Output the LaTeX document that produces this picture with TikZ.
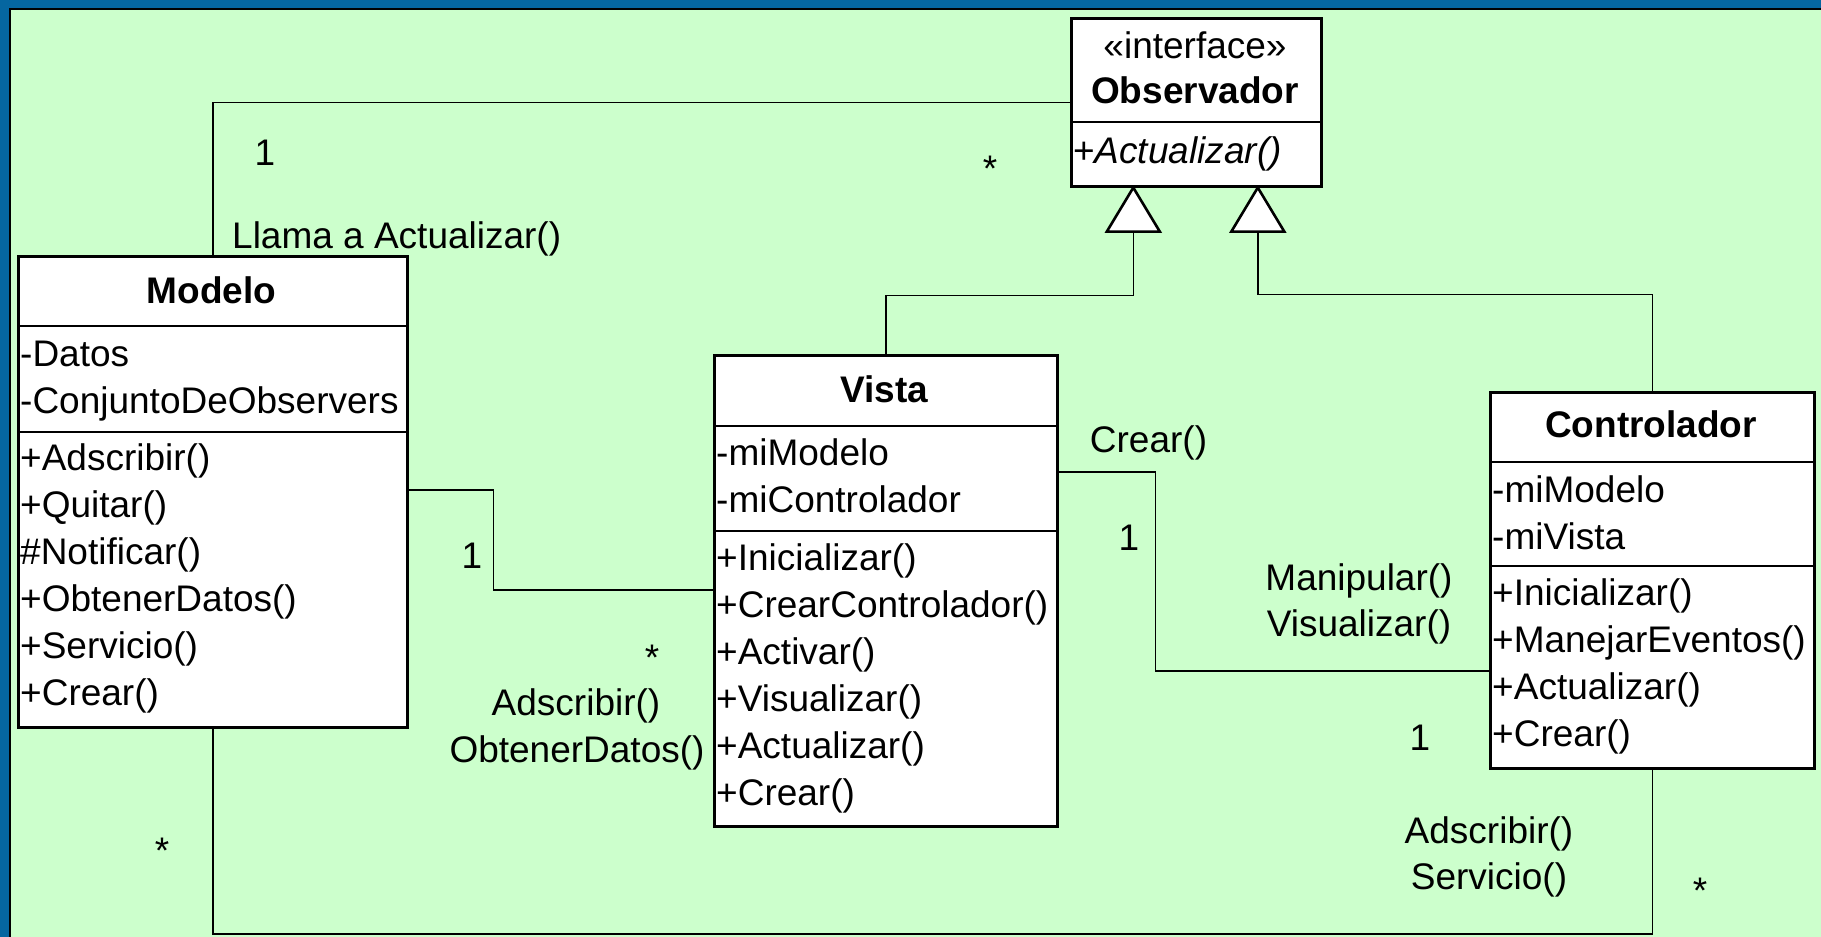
\documentclass[tikz,border=0pt]{standalone}
\usepackage{fontspec}
\setmainfont{Liberation Sans}
\definecolor{bg}{RGB}{204,255,204}
\definecolor{frameblue}{RGB}{5,102,160}
\begin{document}
\begin{tikzpicture}[x=1pt,y=-1pt,
  font=\fontsize{37}{47}\selectfont,
  box/.style={draw=black, fill=white, line width=2.6pt, inner sep=0pt, anchor=north west},
  divider/.style={draw=black, line width=2.6pt},
  conn/.style={draw=black, line width=1.6pt},
  tri/.style={draw=black, fill=white, line width=2.6pt, line join=miter},
  lt/.style={anchor=base west, inner sep=0pt},
  ct/.style={anchor=base, inner sep=0pt},
  ttl/.style={anchor=base, inner sep=0pt, font=\fontsize{37}{47}\selectfont\bfseries}]
\useasboundingbox (0,0) rectangle (1821,937);
% background and frame
\fill[bg] (0,0) rectangle (1821,937);
\fill[frameblue] (0,0) rectangle (1821,8);
\fill[frameblue] (0,0) rectangle (9,937);
\fill[black] (9,8) rectangle (1821,10);
\fill[black] (9,8) rectangle (11,937);

% class boxes
\node[box, minimum width=389pt, minimum height=471pt] (modelo) at (17,255) {};
\node[box, minimum width=343pt, minimum height=471pt] (vista) at (713,354) {};
\node[box, minimum width=324pt, minimum height=376pt] (ctrl) at (1489,391) {};
\node[box, minimum width=250pt, minimum height=168pt] (obs) at (1070,17) {};

% dividers
\draw[divider] ([yshift=-71pt]modelo.north west) -- ([yshift=-71pt]modelo.north east);
\draw[divider] ([yshift=-177pt]modelo.north west) -- ([yshift=-177pt]modelo.north east);
\draw[divider] ([yshift=-72pt]vista.north west) -- ([yshift=-72pt]vista.north east);
\draw[divider] ([yshift=-177pt]vista.north west) -- ([yshift=-177pt]vista.north east);
\draw[divider] ([yshift=-71pt]ctrl.north west) -- ([yshift=-71pt]ctrl.north east);
\draw[divider] ([yshift=-175pt]ctrl.north west) -- ([yshift=-175pt]ctrl.north east);
\draw[divider] ([yshift=-105pt]obs.north west) -- ([yshift=-105pt]obs.north east);

% Observador
\node[ct] (obsStereo) at (1195,58) {«interface»};
\node[ttl] (obsTitle) at (1195,103) {Observador};
\node[lt] (obsM1) at (1073,163) {+\textit{Actualizar()}};

% Modelo
\node[ttl] (modeloTitle) at (211.5,303) {Modelo};
\foreach \t [count=\i] in {-Datos,-ConjuntoDeObservers}
  \node[lt] (modeloA\i) at (20,{366+47*(\i-1)}) {\t};
\foreach \t [count=\i] in {+Adscribir(),+Quitar(),\#Notificar(),+ObtenerDatos(),+Servicio(),+Crear()}
  \node[lt] (modeloM\i) at (20,{470+47*(\i-1)}) {\t};

% Vista
\node[ttl] (vistaTitle) at (884.5,402) {Vista};
\foreach \t [count=\i] in {-miModelo,-miControlador}
  \node[lt] (vistaA\i) at (716,{465+47*(\i-1)}) {\t};
\foreach \t [count=\i] in {+Inicializar(),+CrearControlador(),+Activar(),+Visualizar(),+Actualizar(),+Crear()}
  \node[lt] (vistaM\i) at (716,{570+47*(\i-1)}) {\t};

% Controlador
\node[ttl] (ctrlTitle) at (1651,437) {Controlador};
\foreach \t [count=\i] in {-miModelo,-miVista}
  \node[lt] (ctrlA\i) at (1492,{502+47*(\i-1)}) {\t};
\foreach \t [count=\i] in {+Inicializar(),+ManejarEventos(),+Actualizar(),+Crear()}
  \node[lt] (ctrlM\i) at (1492,{605+47*(\i-1)}) {\t};

% generalization triangles
\coordinate (tipA) at ([xshift=-63pt]obs.south);
\coordinate (tipB) at ([xshift=61.5pt]obs.south);
\draw[conn] (vista.north) |- ([yshift=-108pt]tipA) -- ([yshift=-44pt]tipA);
\draw[conn] (ctrl.north) |- ([yshift=-107pt]tipB) -- ([yshift=-44pt]tipB);
\draw[tri] (tipA) -- ++(-26.5,44) -- ++(53,0) -- cycle;
\draw[tri] (tipB) -- ++(-26.5,44) -- ++(53,0) -- cycle;

% associations
\coordinate (bottomY) at (0,934);
\draw[conn] (modelo.north) |- (obs.west);
\draw[conn] ([yshift=-235pt]modelo.north east) -- ++(85,0) |- ([yshift=-236pt]vista.north west);
\draw[conn] ([yshift=-118pt]vista.north east) -- ++(97,0) |- ([yshift=-280pt]ctrl.north west);
\draw[conn] (ctrl.south) |- (modelo.south |- bottomY) -- (modelo.south);

% labels
\node[ct] (l1) at (265,165) {1};
\node[lt] (l2) at (232,248) {Llama a Actualizar()};
\node[ct] (l3) at (990,181) {*};
\node[ct] (l4) at (472,568) {1};
\node[ct] (l5) at (652,670) {*};
\node[ct] (l6) at (576,715) {Adscribir()};
\node[ct] (l7) at (577,762) {ObtenerDatos()};
\node[ct] (l8) at (1148.5,452) {Crear()};
\node[ct] (l9) at (1129,550) {1};
\node[ct] (l10) at (1359,590) {Manipular()};
\node[ct] (l11) at (1359,636) {Visualizar()};
\node[ct] (l12) at (1420,750) {1};
\node[ct] (l13) at (1489,843) {Adscribir()};
\node[ct] (l14) at (1489,889) {Servicio()};
\node[ct] (l15) at (1700,903) {*};
\node[ct] (l16) at (162,863) {*};
\end{tikzpicture}
\end{document}
